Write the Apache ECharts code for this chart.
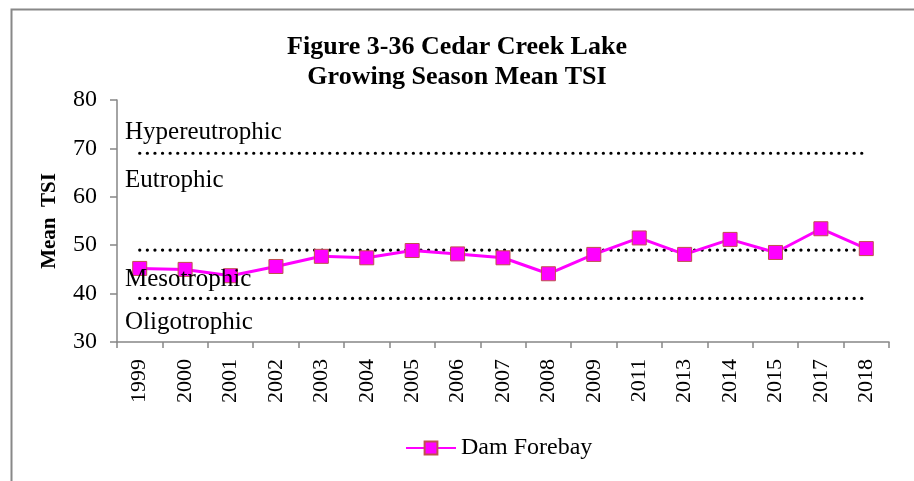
<!DOCTYPE html>
<html><head><meta charset="utf-8">
<script src="https://cdn.jsdelivr.net/npm/echarts@6/dist/echarts.min.js"></script>
<style>html,body{margin:0;padding:0;background:#fff}#c{width:914px;height:481px}</style>
</head><body><div id="c"></div>
<script>
const years = ['1999','2000','2001','2002','2003','2004','2005','2006','2007','2008','2009','2011','2013','2014','2015','2017','2018'];
const damForebay = [45.2, 45.0, 43.7, 45.6, 47.7, 47.4, 48.9, 48.2, 47.4, 44.1, 48.1, 51.5, 48.1, 51.2, 48.5, 53.4, 49.3];
const thresholds = [69, 49, 39];
const bandNames = ['Hypereutrophic', 'Eutrophic', 'Mesotrophic', 'Oligotrophic'];
const yTicks = [30, 40, 50, 60, 70, 80];

const FONT = '"Liberation Serif", "Times New Roman", serif';
const chart = echarts.init(document.getElementById('c'), null, {renderer: 'canvas'});

const thresholdSeries = thresholds.map((t, i) => ({
  name: 'thr' + i,
  type: 'line',
  data: years.map(() => t),
  symbol: 'none',
  silent: true,
  lineStyle: {color: '#000', width: 3.2, type: [0.1, 7.5], cap: 'round'},
  z: 1
}));

const bandPos = [[125, 120], [125, 168], [125, 267], [125, 310]];

chart.setOption({
  animation: false,
  backgroundColor: '#fff',
  title: {
    text: 'Figure 3-36 Cedar Creek Lake\nGrowing Season Mean TSI',
    left: 'center', top: 27,
    textStyle: {fontFamily: FONT, fontWeight: 'bold', fontSize: 26, lineHeight: 30, color: '#000'}
  },
  legend: {
    data: [{name: 'Dam Forebay'}],
    left: 400, top: 431,
    itemWidth: 50, itemHeight: 16, itemGap: 5,
    textStyle: {fontFamily: FONT, fontSize: 24, color: '#000'}
  },
  grid: {left: 117, right: 25, top: 100, bottom: 139, containLabel: false},
  xAxis: {
    type: 'category', data: years, boundaryGap: true,
    axisLine: {lineStyle: {color: '#868686', width: 1.5}},
    axisTick: {show: true, length: 6, lineStyle: {color: '#868686', width: 1.5}},
    axisLabel: {rotate: 90, fontFamily: FONT, fontSize: 22, color: '#000', margin: 17, interval: 0}
  },
  yAxis: {
    type: 'value', min: yTicks[0], max: yTicks[yTicks.length - 1], interval: 10,
    name: 'Mean  TSI', nameLocation: 'middle', nameGap: 57, nameRotate: 90,
    nameTextStyle: {fontFamily: FONT, fontWeight: 'bold', fontSize: 21, color: '#000'},
    axisLine: {show: true, lineStyle: {color: '#868686', width: 1.5}},
    axisTick: {show: true, length: 7, lineStyle: {color: '#868686', width: 1.5}},
    axisLabel: {fontFamily: FONT, fontSize: 24, color: '#000', margin: 20},
    splitLine: {show: false}
  },
  graphic: bandNames.map((n, i) => ({
    type: 'text', left: bandPos[i][0], top: bandPos[i][1], z: 5,
    style: {text: n, font: '25px ' + FONT, fill: '#000'}
  })).concat([{
    type: 'rect', left: 9, top: 7, z: -1,
    shape: {width: 920, height: 490},
    style: {fill: 'none', stroke: '#888', lineWidth: 2}
  }]),
  series: thresholdSeries.concat([{
    name: 'Dam Forebay',
    type: 'line',
    data: damForebay,
    symbol: 'rect', symbolSize: 14,
    itemStyle: {color: '#FF00FF', borderColor: '#C0504D', borderWidth: 1},
    lineStyle: {color: '#FF00FF', width: 3},
    z: 3
  }])
});
</script></body></html>
